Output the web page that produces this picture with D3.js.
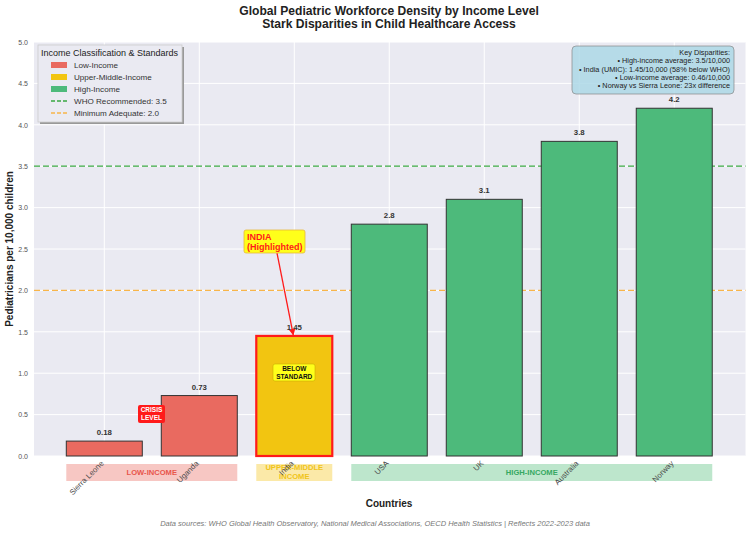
<!DOCTYPE html>
<html>
<head>
<meta charset="utf-8">
<script src="https://cdn.jsdelivr.net/npm/d3@7"></script>
<style>
  body { margin: 0; background: #fff; }
  svg { font-family: "Liberation Sans", Arial, sans-serif; display: block; }
</style>
</head>
<body>
<svg id="chart"></svg>
<script>
// data
const countries = ['Sierra Leone', 'Uganda', 'India', 'USA', 'UK', 'Australia', 'Norway'];
const density = [0.18, 0.73, 1.45, 2.8, 3.1, 3.8, 4.2];
const incomeGroup = ['low', 'low', 'umic', 'high', 'high', 'high', 'high'];
const yTicks = [0, 0.5, 1, 1.5, 2, 2.5, 3, 3.5, 4, 4.5, 5];
const whoLevel = 3.5;
const minLevel = 2.0;
const bands = [
    { label: ['LOW-INCOME'], from: 0, to: 1, group: 'low' },
    { label: ['UPPER-MIDDLE', 'INCOME'], from: 2, to: 2, group: 'umic' },
    { label: ['HIGH-INCOME'], from: 3, to: 6, group: 'high' }
];
const keyLines = [
    'Key Disparities:',
    '• High-income average: 3.5/10,000',
    '• India (UMIC): 1.45/10,000 (58% below WHO)',
    '• Low-income average: 0.46/10,000',
    '• Norway vs Sierra Leone: 23x difference'
];

const colors = { low: '#e96a60', umic: '#f2c511', high: '#4dba7b' };
const bandFill = { low: '#f7c7c3', umic: '#fbe9a8', high: '#bde6cc' };
const bandText = { low: '#e8564b', umic: '#f0c419', high: '#35a862' };

const W = 750, H = 533;
const svg = d3.select('#chart').attr('width', W).attr('height', H);

const plot = { left: 34, right: 745.5, top: 42, bottom: 456 };

const x = d3.scaleLinear().domain([-0.74, 6.75]).range([plot.left, plot.right]);
const y = d3.scaleLinear().domain([0, 5]).range([plot.bottom, plot.top]);
const bw = x(0.8) - x(0);

// background
svg.append('rect')
    .attr('x', plot.left).attr('y', plot.top)
    .attr('width', plot.right - plot.left).attr('height', plot.bottom - plot.top)
    .attr('fill', '#eaeaf2');

// grid
svg.append('g').selectAll('line').data(yTicks).join('line')
    .attr('x1', plot.left).attr('x2', plot.right)
    .attr('y1', d => y(d)).attr('y2', d => y(d))
    .attr('stroke', '#fff').attr('stroke-width', 1);
svg.append('g').selectAll('line').data(countries).join('line')
    .attr('x1', (d, i) => x(i)).attr('x2', (d, i) => x(i))
    .attr('y1', plot.top).attr('y2', plot.bottom)
    .attr('stroke', '#fff').attr('stroke-width', 1);

// y axis
const yAxis = d3.axisLeft(y).tickValues(yTicks).tickFormat(d3.format('.1f')).tickSize(0).tickPadding(6);
const yg = svg.append('g').attr('transform', `translate(${plot.left},0)`).call(yAxis);
yg.select('.domain').remove();
yg.selectAll('text').attr('font-size', 7).attr('fill', '#555').attr('font-family', '"Liberation Sans", Arial, sans-serif');

// reference lines
svg.append('line')
    .attr('x1', plot.left).attr('x2', plot.right)
    .attr('y1', y(whoLevel)).attr('y2', y(whoLevel))
    .attr('stroke', '#3aa843').attr('stroke-width', 1.3).attr('stroke-dasharray', '6,3');
svg.append('line')
    .attr('x1', plot.left).attr('x2', plot.right)
    .attr('y1', y(minLevel)).attr('y2', y(minLevel))
    .attr('stroke', '#f8b54a').attr('stroke-width', 1.3).attr('stroke-dasharray', '6,3');

// bars
svg.append('g').selectAll('rect').data(density).join('rect')
    .attr('x', (d, i) => x(i) - bw / 2)
    .attr('y', d => y(d))
    .attr('width', bw)
    .attr('height', d => y(0) - y(d))
    .attr('fill', (d, i) => colors[incomeGroup[i]])
    .attr('stroke', (d, i) => countries[i] === 'India' ? '#ff1a1a' : '#333')
    .attr('stroke-width', (d, i) => countries[i] === 'India' ? 2.2 : 1);

// value labels
svg.append('g').selectAll('text').data(density).join('text')
    .attr('x', (d, i) => x(i))
    .attr('y', d => y(d) - 6)
    .attr('text-anchor', 'middle')
    .attr('font-size', 7.8).attr('font-weight', 'bold').attr('fill', '#333')
    .text(d => d);

// income bands under axis
const bandG = svg.append('g');
bands.forEach(b => {
    const x0 = x(b.from) - bw / 2, x1 = x(b.to) + bw / 2;
    bandG.append('rect')
        .attr('x', x0).attr('y', 464).attr('width', x1 - x0).attr('height', 17)
        .attr('fill', bandFill[b.group]);
    const t = bandG.append('text')
        .attr('x', (x0 + x1) / 2)
        .attr('text-anchor', 'middle')
        .attr('font-size', 7.6).attr('font-weight', 'bold').attr('fill', bandText[b.group]);
    const y0 = b.label.length > 1 ? 470 : 474.5;
    b.label.forEach((l, k) => {
        t.append('tspan').attr('x', (x0 + x1) / 2).attr('y', y0 + k * 9).text(l);
    });
});

// country labels
svg.append('g').selectAll('text').data(countries).join('text')
    .attr('transform', (d, i) => `translate(${x(i) - 2},${462}) rotate(-45)`)
    .attr('text-anchor', 'end')
    .attr('dy', '0.35em')
    .attr('font-size', 7.8).attr('fill', '#4a4a4a')
    .text(d => d);

// annotations
const indiaX = x(2);
svg.append('defs').append('marker')
    .attr('id', 'arr').attr('viewBox', '0 0 10 10')
    .attr('refX', 9).attr('refY', 5)
    .attr('markerWidth', 5).attr('markerHeight', 5)
    .attr('orient', 'auto')
    .append('path').attr('d', 'M0,0 L10,5 L0,10 z').attr('fill', '#ff1a1a');
svg.append('line')
    .attr('x1', 277).attr('y1', 253)
    .attr('x2', indiaX - 1).attr('y2', y(density[2]) - 1)
    .attr('stroke', '#ff1a1a').attr('stroke-width', 1.3)
    .attr('marker-end', 'url(#arr)');
svg.append('rect')
    .attr('x', 244).attr('y', 230).attr('width', 61).attr('height', 23).attr('rx', 2)
    .attr('fill', '#ffff1a').attr('stroke', '#e8b83a').attr('stroke-width', 0.8);
const it = svg.append('text')
    .attr('font-size', 9).attr('font-weight', 'bold').attr('fill', '#ff1a1a');
it.append('tspan').attr('x', 247).attr('y', 239.5).text('INDIA');
it.append('tspan').attr('x', 247).attr('y', 249.5).text('(Highlighted)');

svg.append('rect')
    .attr('x', 273).attr('y', 364).attr('width', 42).attr('height', 17).attr('rx', 2)
    .attr('fill', '#ffff1a').attr('stroke', '#c9b000').attr('stroke-width', 0.6);
const bs = svg.append('text')
    .attr('text-anchor', 'middle')
    .attr('font-size', 6.5).attr('font-weight', 'bold').attr('fill', '#111');
bs.append('tspan').attr('x', indiaX).attr('y', 371).text('BELOW');
bs.append('tspan').attr('x', indiaX).attr('y', 378.5).text('STANDARD');

svg.append('rect')
    .attr('x', 138).attr('y', 405).attr('width', 27).attr('height', 18).attr('rx', 2)
    .attr('fill', '#ff1a1a');
const cl = svg.append('text')
    .attr('text-anchor', 'middle')
    .attr('font-size', 6.5).attr('font-weight', 'bold').attr('fill', '#fff');
cl.append('tspan').attr('x', 151.5).attr('y', 412).text('CRISIS');
cl.append('tspan').attr('x', 151.5).attr('y', 419.5).text('LEVEL');

// legend
const lg = svg.append('g').attr('transform', 'translate(38,45)');
lg.append('rect').attr('x', 2).attr('y', 2).attr('width', 144).attr('height', 77).attr('fill', '#999');
lg.append('rect').attr('width', 144).attr('height', 77)
    .attr('fill', '#eaeaf2').attr('stroke', '#ccc').attr('stroke-width', 0.8);
lg.append('text').attr('x', 3).attr('y', 10.5).attr('font-size', 9).attr('fill', '#222')
    .text('Income Classification & Standards');
const legendItems = [
    { label: 'Low-Income', type: 'patch', color: colors.low },
    { label: 'Upper-Middle-Income', type: 'patch', color: colors.umic },
    { label: 'High-Income', type: 'patch', color: colors.high },
    { label: 'WHO Recommended: 3.5', type: 'line', color: '#3aa843' },
    { label: 'Minimum Adequate: 2.0', type: 'line', color: '#f8b54a' }
];
legendItems.forEach((d, i) => {
    const cy = 20 + i * 12;
    if (d.type === 'patch') {
        lg.append('rect').attr('x', 13).attr('y', cy - 3).attr('width', 16).attr('height', 6).attr('fill', d.color);
    } else {
        lg.append('line').attr('x1', 13).attr('x2', 29).attr('y1', cy).attr('y2', cy)
            .attr('stroke', d.color).attr('stroke-width', 1.3).attr('stroke-dasharray', '4,2');
    }
    lg.append('text').attr('x', 36).attr('y', cy + 2.9).attr('font-size', 8.1).attr('fill', '#333').text(d.label);
});

// key disparities box
svg.append('rect')
    .attr('x', 572).attr('y', 46).attr('width', 162).attr('height', 48).attr('rx', 4)
    .attr('fill', '#add8e6').attr('fill-opacity', 0.85)
    .attr('stroke', '#888').attr('stroke-width', 0.7);
svg.append('g').selectAll('text').data(keyLines).join('text')
    .attr('x', 730).attr('y', (d, i) => 55 + i * 8.3)
    .attr('text-anchor', 'end')
    .attr('font-size', 7.3).attr('fill', '#222')
    .text(d => d);

// titles
svg.append('text').attr('x', 389).attr('y', 15)
    .attr('text-anchor', 'middle').attr('font-size', 12.1).attr('font-weight', 'bold').attr('fill', '#222')
    .text('Global Pediatric Workforce Density by Income Level');
svg.append('text').attr('x', 389).attr('y', 28)
    .attr('text-anchor', 'middle').attr('font-size', 12.1).attr('font-weight', 'bold').attr('fill', '#222')
    .text('Stark Disparities in Child Healthcare Access');

svg.append('text').attr('x', 389).attr('y', 507)
    .attr('text-anchor', 'middle').attr('font-size', 10).attr('font-weight', 'bold').attr('fill', '#222')
    .text('Countries');
svg.append('text')
    .attr('transform', `translate(13,${(plot.top + plot.bottom) / 2}) rotate(-90)`)
    .attr('text-anchor', 'middle').attr('font-size', 10).attr('font-weight', 'bold').attr('fill', '#222')
    .text('Pediatricians per 10,000 children');

svg.append('text').attr('x', 375).attr('y', 526)
    .attr('text-anchor', 'middle').attr('font-size', 7.5).attr('font-style', 'italic').attr('fill', '#777')
    .text('Data sources: WHO Global Health Observatory, National Medical Associations, OECD Health Statistics | Reflects 2022-2023 data');
</script>
</body>
</html>
